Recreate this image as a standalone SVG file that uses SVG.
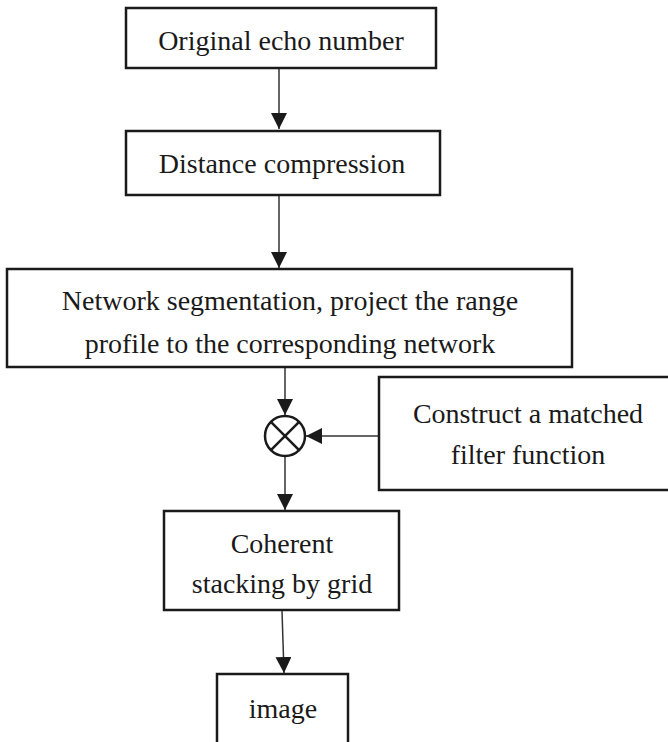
<svg xmlns="http://www.w3.org/2000/svg" width="668" height="742" viewBox="0 0 668 742">
<defs>
<style>
.box{fill:#fff;stroke:#1a1a1a;stroke-width:2.5}
.t{font-family:'Liberation Serif','Times New Roman','DejaVu Serif',serif;font-size:28px;fill:#1a1a1a;text-anchor:middle}
.c{stroke:#333;stroke-width:1.5;fill:none}
</style>
<marker id="ah2" viewBox="0 0 16 16" refX="16" refY="8" markerWidth="16" markerHeight="16" markerUnits="userSpaceOnUse" orient="auto">
<path d="M0,0 L16,8 L0,16 z" fill="#1a1a1a"/>
</marker>
</defs>
<rect width="668" height="742" fill="#fff"/>
<g id="connectors">
<line class="c" x1="279" y1="68" x2="279" y2="129" marker-end="url(#ah2)"/>
<line class="c" x1="279" y1="196" x2="279" y2="268" marker-end="url(#ah2)"/>
<line class="c" x1="285" y1="368" x2="285" y2="415" marker-end="url(#ah2)"/>
<line class="c" x1="378" y1="436" x2="306" y2="436" marker-end="url(#ah2)"/>
<line class="c" x1="285" y1="457" x2="285" y2="510" marker-end="url(#ah2)"/>
<line class="c" x1="282" y1="611" x2="284" y2="673" marker-end="url(#ah2)"/>
</g>
<g id="n1"><rect class="box" x="126" y="8" width="310" height="60"/><text class="t" x="281" y="50" font-family="Liberation Serif, serif">Original echo number</text></g>
<g id="n2"><rect class="box" x="126" y="131" width="314" height="64"/><text class="t" x="282" y="173">Distance compression</text></g>
<g id="n3"><rect class="box" x="7" y="269" width="565" height="98"/><text class="t" x="290" y="310">Network segmentation, project the range</text><text class="t" x="290" y="353">profile to the corresponding network</text></g>
<g id="mult"><circle cx="285" cy="436" r="20" fill="#fff" stroke="#1a1a1a" stroke-width="2.5"/><line x1="270.9" y1="421.9" x2="299.1" y2="450.1" stroke="#1a1a1a" stroke-width="2.5"/><line x1="299.1" y1="421.9" x2="270.9" y2="450.1" stroke="#1a1a1a" stroke-width="2.5"/></g>
<g id="n4"><rect class="box" x="379" y="377" width="300" height="113"/><text class="t" x="528" y="423">Construct a matched</text><text class="t" x="528" y="464">filter function</text></g>
<g id="n5"><rect class="box" x="164" y="511" width="235" height="99"/><text class="t" x="282" y="553">Coherent</text><text class="t" x="282" y="593">stacking by grid</text></g>
<g id="n6"><rect class="box" x="217" y="674" width="131" height="90"/><text class="t" x="283" y="718">image</text></g>
</svg>
